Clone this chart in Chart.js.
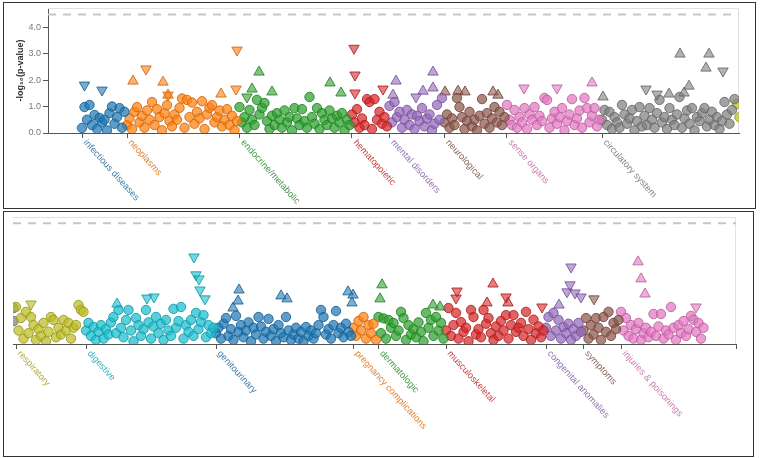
<!DOCTYPE html>
<html><head><meta charset="utf-8">
<script src="https://cdn.jsdelivr.net/npm/chart.js@4.4.1/dist/chart.umd.min.js"></script>
<style>
html,body{margin:0;padding:0;background:#fff;width:763px;height:458px;overflow:hidden;font-family:"Liberation Sans",Arial,sans-serif}
.box{position:absolute;border:1px solid #333;box-sizing:border-box}
canvas{position:absolute;left:0}
</style></head><body>
<div class="box" style="left:3px;top:2px;width:753px;height:207px"></div>
<div class="box" style="left:3px;top:211px;width:751px;height:246px"></div>
<canvas id="topChart" width="763" height="210" style="top:0"></canvas>
<canvas id="botChart" width="763" height="246" style="top:210px"></canvas>
<script>
// ---------- DATA ----------
const threshold = 4.47;
const yTickLabels = ['0.0','1.0','2.0','3.0','4.0'];

const topCategories = ['infectious diseases','neoplasms','endocrine/metabolic','hematopoietic','mental disorders','neurological','sense organs','circulatory system'];
const bottomCategories = ['respiratory','digestive','genitourinary','pregnancy complications','dermatologic','musculoskeletal','congenital anomalies','symptoms','injuries & poisonings'];

// -log10(p) of circles, in phecode order
const infectiousVals = [0.19,0.98,0.5,1.06,0.3,0.68,0.15,0.57,0.4,0.5, 0.1,0.75,1.0,0.35,0.6,0.94,0.2,0.8];
const neoplasmsVals = [0.3,0.55,0.15,0.8,0.98,0.4,0.65,0.2,0.85,0.5, 1.17,0.3,0.9,0.6,0.1,0.75,1.05,0.45,0.25,0.7, 0.5,0.95,1.3,0.2,1.25,0.6,1.15,0.35,0.8,0.55, 1.2,0.15,0.7,0.95,1.05,0.4,0.6,0.85,0.25,0.5, 0.9,0.3,0.65,0.1,0.45];
const endocrineVals = [0.98,0.4,0.6,0.2,0.87,0.5,0.3,1.25,0.7,0.95, 1.13,0.45,0.15,0.65,0.3,0.75,0.5,0.2,0.85,0.4, 0.6,0.1,0.94,0.55,0.3,0.9,0.45,0.2,1.36,0.6, 0.35,0.94,0.15,0.75,0.5,0.3,0.85,0.55,0.2,0.65, 0.4,0.75,0.1,0.5,0.3];
const hematopoieticVals = [0.7,0.4,0.9,0.2,0.55,0.3,1.28,1.17,0.15,1.28,0.5,0.8,0.35,0.6,0.25];
const mentalVals = [1.02,0.4,1.17,0.6,0.8,0.2,0.5,0.87,0.3,0.7, 0.15,0.65,0.45,0.94,0.25,0.55,0.7,0.1,0.35,1.06, 0.5,1.32];
const neurologicalVals = [0.4,0.7,0.2,0.55,0.3,1.32,0.98,0.6,0.15,0.45, 0.8,0.25,0.5,0.1,0.65,1.28,0.35,0.75,0.2,0.55, 0.98,0.4,0.8,0.3,0.6];
const senseVals = [1.06,0.5,0.3,0.87,0.2,0.6,0.4,0.94,0.15,0.7, 0.5,0.98,0.3,0.65,0.45,1.32,1.25,0.2,0.55,0.8, 0.35,0.6,0.94,0.1,0.45,0.7,1.28,0.3,0.55,0.85, 0.2,1.32,0.94,0.4,0.65,0.94,0.25,0.5];
const circulatoryVals = [0.5,0.87,0.3,0.8,0.15,0.6,0.4,0.2,1.06,0.7, 0.35,0.55,0.87,0.1,0.45,0.98,0.25,0.65,0.3,0.94, 0.5,0.2,0.75,1.25,0.4,0.6,0.15,0.94,0.5,0.3, 0.7,1.36,0.2,0.55,0.85,0.35,0.94,0.1,0.6,0.45, 0.75,0.94,0.25,0.5,0.8,0.3,0.6,0.15,0.45,1.17, 0.7,0.35,0.87,1.28];
const topTailRespiratory = [1.1,0.6];

const respiratoryVals = [1.37,0.5,0.96,0.2,1.19,0.4,1.0,0.7,0.15,0.55, 0.3,0.78,0.1,0.45,1.0,0.89,0.25,0.6,0.35,0.89, 0.5,0.78,0.2,0.6,0.7,1.44,1.26,1.19];
const digestiveVals = [0.5,0.78,0.3,0.63,0.15,0.45,0.7,0.2,0.55,0.35, 0.8,1.0,0.4,1.26,0.6,0.25,0.89,1.26,0.5,0.1, 0.96,0.7,0.3,0.55,1.26,0.8,0.2,0.65,1.0,0.4, 0.75,0.15,0.89,0.5,0.3,1.3,0.6,0.85,1.37,0.2, 0.7,0.45,0.89,0.3,1.15,0.55,0.81,1.07,0.25,0.7, 0.4,0.6];
const genitourinaryVals = [0.4,0.6,0.2,0.75,0.96,0.3,0.55,0.15,1.04,0.45, 0.7,0.25,0.5,0.8,0.1,0.6,0.35,1.0,0.65,0.2, 0.45,0.93,0.3,0.55,0.1,0.7,0.4,0.25,1.0,0.5, 0.15,0.35,0.6,0.2,0.45,0.1,0.63,0.3,0.5,0.2, 0.4,0.7,1.26,1.0,0.35,0.55,0.2,0.7,1.22,0.4, 0.6,0.25,0.75,0.45,0.3];
const pregnancyVals = [0.6,0.3,0.85,0.5,1.0,0.2,0.7,0.4,0.75,0.15];
const dermatologicVals = [1.0,0.4,0.95,0.2,0.89,0.6,0.78,0.3,0.5,1.19, 0.96,0.15,0.7,0.35,0.55,0.25,0.8,0.45,0.1,1.15, 0.6,0.89,0.3,1.0,0.5,0.78,0.2];
const musculoskeletalVals = [0.5,1.33,0.3,0.7,1.15,0.2,0.81,0.45,0.6,0.1, 1.26,1.0,0.35,0.55,0.25,1.26,0.75,0.96,0.4,0.15, 0.65,0.3,0.85,0.5,1.07,0.2,0.7,1.07,0.45,0.6, 0.78,0.3,1.19,0.55,0.15,0.9,0.4,0.65,0.25,0.5];
const congenitalVals = [0.6,1.0,0.3,1.15,0.5,0.89,0.2,0.63,0.4,0.75,0.15,0.55,0.3,0.78,0.45];
const symptomsVals = [0.5,0.96,0.2,0.7,0.35,0.96,0.6,0.15,1.0,0.45,1.19,0.3,0.78,0.55,0.89];
const injuriesVals = [1.19,0.5,0.96,0.3,0.7,0.2,0.55,0.78,0.15,0.4, 0.6,0.25,0.45,1.11,0.3,0.65,1.11,0.2,0.5,0.35, 1.37,0.6,0.15,0.7,0.4,0.85,0.3,0.55,1.04,0.9, 0.45,0.78,0.2,0.6];
const bottomTailCirculatory = [1.33,0.85];

// triangles: [position within category, -log10(p)]; up = positive effect, down = negative
const topUp = [[], [[2.4,1.96],[14.4,1.92],[16.4,1.43],[37.6,1.47]], [[5,1.66],[7.8,2.30],[13,1.55],[36.2,1.89],[40.6,1.51]], [],
  [[1.4,1.43],[2.6,1.96],[13.4,1.58],[17.4,2.30],[17.4,1.7]], [[0.2,1.55],[5.4,1.58],[8.2,1.55],[19.4,1.55],[21.4,1.43]],
  [[34,1.89]], [[0.4,1.36],[26.8,1.47],[31.2,2.98],[32.8,1.51],[34.8,1.77],[41.6,2.45],[42.8,2.98]]];
const topDown = [[[1,1.81],[8,1.62]], [[7.6,2.42],[16.4,1.43],[44,3.13],[43.6,1.66]], [[3,1.36]], [[0.8,3.2],[1.2,2.19],[1.2,1.51],[12.4,1.66]],
  [[10.6,1.36]], [], [[6.8,1.7],[20,1.7]], [[17.6,1.66],[22,1.47],[48.4,2.34]]];
const bottomUp = [[], [[12.4,1.48]], [[6.8,1.33],[8.8,1.59],[9.2,2.0],[26,1.78],[28.4,1.67],[52.8,1.93],[54.4,1.52],[54.8,1.81]], [],
  [[0.6,1.67],[1.4,2.19],[21.8,1.44],[24.6,1.37]], [[16.4,1.52],[18.8,2.22],[24.8,1.52]], [[5.2,1.44]], [], [[6.8,3.04],[8,2.41],[9.6,1.85]]];
const bottomDown = [[[6,1.48]], [[24.4,1.70],[27.2,1.74],[43.2,3.22],[44,2.56],[45.2,2.41],[45.6,2.0],[47.6,1.67]], [], [],
  [], [[4.4,1.96],[4,1.70],[24,1.74],[38.4,1.37]], [[8.4,1.93],[9.6,2.19],[10,2.85],[11.6,1.89],[14,1.74]], [[4.2,1.67]], [[30,1.37]]];

// ---------- STYLE ----------
const cat10 = ['#1f77b4','#ff7f0e','#2ca02c','#d62728','#9467bd','#8c564b','#e377c2','#7f7f7f','#bcbd22','#17becf'];
const topColors = [0,1,2,3,4,5,6,7].map(i=>cat10[i]);
const bottomColors = [8,9,0,1,2,3,4,5,6].map(i=>cat10[i]);

function rgba(hex,a,f){f=f||1;const n=parseInt(hex.slice(1),16);return `rgba(${Math.round((n>>16&255)*f)},${Math.round((n>>8&255)*f)},${Math.round((n&255)*f)},${a})`;}

function pointDataset(pts,col){
  return {
    data: pts,
    pointStyle: c => (c.raw && c.raw.s!=='c') ? 'triangle' : 'circle',
    pointRotation: c => (c.raw && c.raw.s==='d') ? 180 : 0,
    pointRadius: c => (c.raw && c.raw.s!=='c') ? 6 : 4.7,
    pointBackgroundColor: c => (c.raw && c.raw.s!=='c') ? rgba(col,0.6) : rgba(col,0.72),
    pointBorderColor: rgba(col,0.85,0.8),
    pointBorderWidth: 1,
    backgroundColor: rgba(col,0.72), borderColor: rgba(col,0.85,0.8)
  };
}

function buildPanel(valsList, ups, downs, colors){
  let start = 0; const starts = []; const ds = [];
  valsList.forEach((vals,k)=>{
    starts.push(start);
    const pts = vals.map((v,i)=>({x:start+i, y:v, s:'c'}));
    ups[k].forEach(([o,v])=>pts.push({x:start+o, y:v, s:'u'}));
    downs[k].forEach(([o,v])=>pts.push({x:start+o, y:v, s:'d'}));
    ds.push(pointDataset(pts, colors[k]));
    start += vals.length;
  });
  return {ds, starts, end:start};
}

const catLabelPlugin = {
  id:'catLabels',
  afterDraw(chart, args, opts){
    const ctx = chart.ctx, xs = chart.scales.x, y0 = xs.top;
    ctx.save();
    ctx.font = '9.3px "Liberation Sans", Arial, sans-serif';
    opts.names.forEach((n,i)=>{
      const px = xs.getPixelForValue(opts.starts[i]);
      ctx.save();
      ctx.translate(px+3, y0+8);
      ctx.rotate(48*Math.PI/180);
      ctx.fillStyle = rgba(opts.colors[i],0.85,0.85);
      ctx.textAlign='left'; ctx.textBaseline='middle';
      ctx.fillText(n,0,0);
      ctx.restore();
    });
    ctx.restore();
  }
};
const framePlugin = {
  id:'frame',
  beforeDatasetsDraw(chart){
    const {ctx, chartArea:a} = chart;
    ctx.save(); ctx.strokeStyle='#e2e2e2'; ctx.lineWidth=1;
    ctx.beginPath(); ctx.moveTo(a.left, a.top+0.5); ctx.lineTo(a.right-0.5, a.top+0.5); ctx.lineTo(a.right-0.5, a.bottom); ctx.stroke();
    ctx.restore();
  }
};

function makeChart(id, panel, names, colors, xmin, xmax, ymax, pad, xHeight, showY, extraTicks){
  const thr = {type:'line', data:[{x:xmin,y:threshold},{x:xmax,y:threshold}], borderColor:'#c6c6c6', borderWidth:2, borderDash:[8,7], pointRadius:0, fill:false};
  const tickVals = panel.starts.concat(extraTicks);
  return new Chart(document.getElementById(id), {
    type:'scatter',
    data:{datasets: panel.ds.concat([thr])},
    options:{
      responsive:false, animation:false, devicePixelRatio:1, events:[],
      layout:{autoPadding:false, padding:pad},
      plugins:{legend:{display:false}, tooltip:{enabled:false}, catLabels:{names, starts:panel.starts, colors}},
      scales:{
        x:{type:'linear', min:xmin, max:xmax,
           afterBuildTicks: s => { s.ticks = tickVals.map(v=>({value:v})); },
           afterFit: s => { s.height = xHeight; s.paddingLeft=0; s.paddingRight=0; },
           ticks:{display:false},
           grid:{display:true, drawOnChartArea:false, drawTicks:true, tickLength:5, color:'#555'},
           border:{display:true, color:'#555', width:1}},
        y:{display:showY, min:0, max:ymax,
           afterBuildTicks: s => { s.ticks = yTickLabels.map(t=>({value:parseFloat(t)})); },
           afterFit: s => { s.width = showY ? 48 : 0; s.paddingTop=0; s.paddingBottom=0; },
           ticks:{callback:(v)=>v.toFixed(1), color:'#777', font:{size:9, family:'"Liberation Sans", Arial'}, padding:2},
           grid:{display:true, drawOnChartArea:false, drawTicks:true, tickLength:5, color:'#555'},
           border:{display:true, color:'#555', width:1},
           title:{display:true, text:'-log\u2081\u2080(p-value)', color:'#333', font:{size:9, weight:'bold', family:'"Liberation Sans", Arial'}, padding:{top:15,bottom:0}}}
      }
    },
    plugins:[catLabelPlugin, framePlugin]
  });
}

// top panel
const topPanel = buildPanel([infectiousVals,neoplasmsVals,endocrineVals,hematopoieticVals,mentalVals,neurologicalVals,senseVals,circulatoryVals], topUp, topDown, topColors);
topPanel.ds.push(pointDataset(topTailRespiratory.map((v,i)=>({x:topPanel.end+i, y:v, s:'c'})), cat10[8]));
makeChart('topChart', topPanel, topCategories, topColors, -13.6, 262.8, 4.72, {left:0, top:8, right:24, bottom:0}, 77, true, []);

// bottom panel
const botPanel = buildPanel([respiratoryVals,digestiveVals,genitourinaryVals,pregnancyVals,dermatologicVals,musculoskeletalVals,congenitalVals,symptomsVals,injuriesVals], bottomUp, bottomDown, bottomColors);
botPanel.ds.push(pointDataset(bottomTailCirculatory.map(v=>({x:-1, y:v, s:'c'})), cat10[7]));
makeChart('botChart', botPanel, bottomCategories, bottomColors, -1.2, 288, 4.70, {left:13, top:7, right:27, bottom:0}, 112, false, [288]);
</script>
</body></html>
